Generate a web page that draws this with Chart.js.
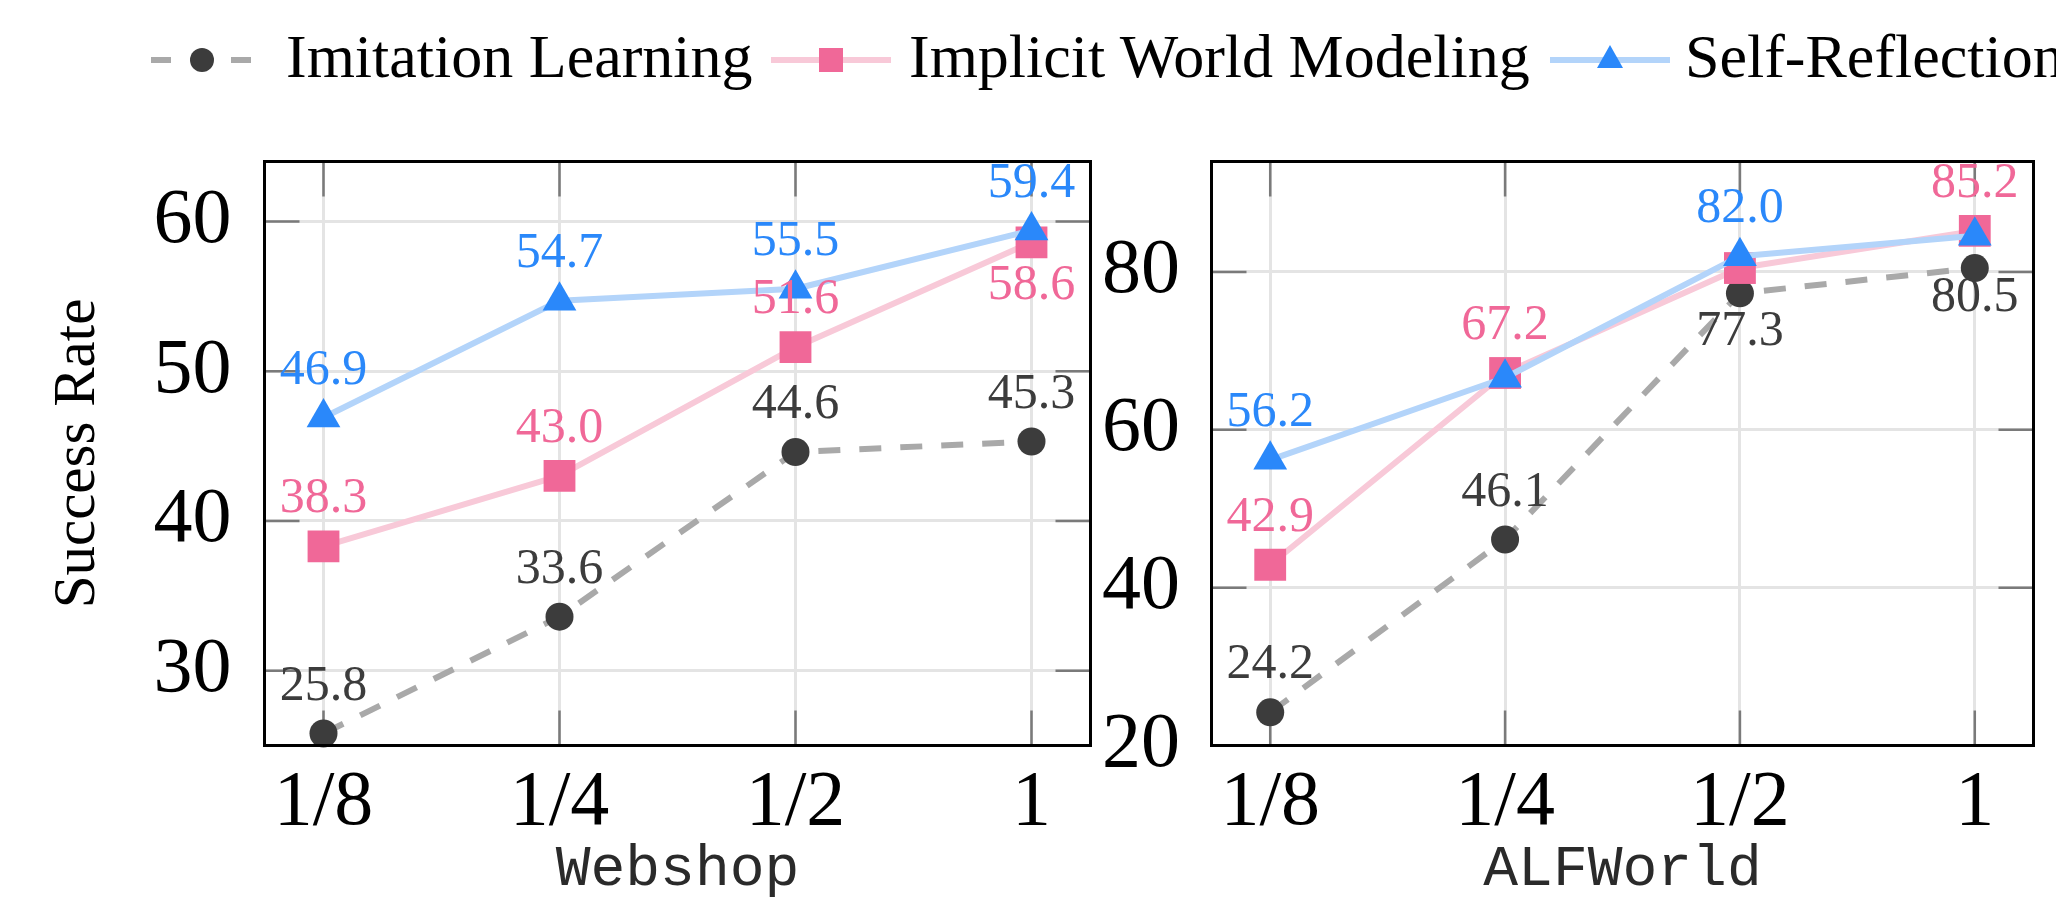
<!DOCTYPE html>
<html>
<head>
<meta charset="utf-8">
<script src="https://cdn.jsdelivr.net/npm/chart.js@4/dist/chart.umd.min.js"></script>
<style>
  html, body { margin:0; padding:0; background:#fff; width:2056px; height:913px; overflow:hidden; position:relative; }
  .cw { position:absolute; top:0; }
  .lg-h { position:absolute; top:40px; }
  .lg-t { position:absolute; top:25px; font-family:"Liberation Serif", serif; font-size:62px; line-height:62px; color:#000; white-space:nowrap; }
</style>
</head>
<body>
<canvas id="c1" class="cw" width="1150" height="913" style="left:0px"></canvas>
<canvas id="c2" class="cw" width="956" height="913" style="left:1100px"></canvas>
<div id="legend"></div>
<script>
// ---------------- data ----------------
const xLabels = ['1/8', '1/4', '1/2', '1'];
const seriesNames = ['Imitation Learning', 'Implicit World Modeling', 'Self-Reflection'];

const webshopImitation = [25.8, 33.6, 44.6, 45.3];
const webshopImplicit  = [38.3, 43.0, 51.6, 58.6];
const webshopSelf      = [46.9, 54.7, 55.5, 59.4];

const alfImitation = [24.2, 46.1, 77.3, 80.5];
const alfImplicit  = [42.9, 67.2, 80.5, 85.2];
const alfSelf      = [56.2, 66.6, 82.0, 84.6];

const webshopYTicks = [30, 40, 50, 60];
const alfYTicks     = [20, 40, 60, 80];

const panelTitles = ['Webshop', 'ALFWorld'];

// value-label placement (px offset from point; null = no label)
const webshopLabelDy = [[-47, -47, -47, -47], [-47, -47, -47, 44], [-47, -47, -47, -47]];
const alfLabelDy     = [[-47, -47, 39, 30], [-47, -47, null, -47], [-47, null, -47, null]];

// ---------------- styles ----------------
const SERIF = '"Liberation Serif", "Times New Roman", serif';
const MONO = '"Liberation Mono", "Courier New", monospace';
const styles = [
  { line: '#a9a9a9', marker: '#3c3c3c', text: '#3c3c3c', pointStyle: 'circle', r: 14, dash: [22, 19], order: 2 },
  { line: '#f8c9d8', marker: '#f06898', text: '#f06898', pointStyle: 'rect', r: 22.5, dash: [], order: 1 },
  { line: '#b3d4fa', marker: '#2a88fa', text: '#2a88fa', pointStyle: 'triangle', r: 19.5, dash: [], order: 0 }
];

const framePlugin = {
  id: 'frame',
  beforeDatasetsDraw(chart) {
    const { ctx, chartArea: a, scales } = chart;
    ctx.save();
    ctx.strokeStyle = '#7a7a7a';
    ctx.lineWidth = 2.5;
    const tl = 35;
    scales.x.ticks.forEach(t => {
      const px = scales.x.getPixelForValue(t.value);
      ctx.beginPath();
      ctx.moveTo(px, a.top); ctx.lineTo(px, a.top + tl);
      ctx.moveTo(px, a.bottom); ctx.lineTo(px, a.bottom - tl);
      ctx.stroke();
    });
    scales.y.ticks.forEach(t => {
      const py = scales.y.getPixelForValue(t.value);
      ctx.beginPath();
      ctx.moveTo(a.left, py); ctx.lineTo(a.left + tl, py);
      ctx.moveTo(a.right, py); ctx.lineTo(a.right - tl, py);
      ctx.stroke();
    });
    ctx.restore();
  },
  afterDatasetsDraw(chart, args, opts) {
    const { ctx, chartArea: a } = chart;
    ctx.save();
    ctx.strokeStyle = '#000';
    ctx.lineWidth = 3;
    ctx.strokeRect(a.left, a.top, a.right - a.left, a.bottom - a.top);
    ctx.font = '50px ' + SERIF;
    ctx.textAlign = 'center';
    ctx.textBaseline = 'middle';
    chart.data.datasets.forEach((ds, i) => {
      const meta = chart.getDatasetMeta(i);
      const dys = opts.labelDy[i];
      meta.data.forEach((el, j) => {
        const dy = dys[j];
        if (dy === null || dy === undefined) return;
        ctx.fillStyle = styles[i].text;
        ctx.fillText(ds.data[j].y.toFixed(1), el.x, el.y + dy);
      });
    });
    ctx.restore();
  }
};

function makeChart(id, seriesVals, labelDy, yMin, yMax, yTicks, title, yAxisWidth, padRight, showYTitle, yPad) {
  const datasets = seriesVals.map((vals, i) => {
    const s = styles[i];
    return {
      label: seriesNames[i],
      data: vals.map((v, k) => ({ x: k, y: v })),
      borderColor: s.line,
      backgroundColor: s.marker,
      borderWidth: 6,
      borderDash: s.dash,
      borderJoinStyle: 'round',
      borderCapStyle: 'butt',
      pointStyle: s.pointStyle,
      pointRadius: s.r,
      pointHoverRadius: s.r,
      pointBackgroundColor: s.marker,
      pointBorderColor: s.marker,
      pointBorderWidth: 0,
      tension: 0,
      order: s.order,
      clip: false
    };
  });
  return new Chart(document.getElementById(id), {
    type: 'line',
    data: { datasets },
    options: {
      responsive: false,
      devicePixelRatio: 1,
      animation: false,
      events: [],
      layout: { padding: { left: 0, top: 161.5, right: padRight, bottom: 0 } },
      plugins: {
        legend: { display: false },
        tooltip: { enabled: false },
        frame: { labelDy }
      },
      scales: {
        x: {
          type: 'linear',
          min: -0.25, max: 3.25,
          afterBuildTicks: s => { s.ticks = xLabels.map((_, k) => ({ value: k })); },
          afterFit: s => { s.height = 167.5; },
          ticks: {
            callback: v => xLabels[v],
            font: { family: SERIF, size: 78, lineHeight: 1 },
            color: '#000',
            padding: 19,
            autoSkip: false,
            maxRotation: 0
          },
          grid: { color: '#e4e4e4', lineWidth: 3, drawTicks: false },
          border: { display: false },
          title: {
            display: true, text: title,
            font: { family: MONO, size: 58, lineHeight: 1 },
            color: '#2a2a2a',
            padding: { top: 0, bottom: 14 }
          }
        },
        y: {
          type: 'linear',
          min: yMin, max: yMax,
          afterBuildTicks: s => { s.ticks = yTicks.map(v => ({ value: v })); },
          afterFit: s => { s.width = yAxisWidth; },
          ticks: {
            font: { family: SERIF, size: 78, lineHeight: 1 },
            color: '#000',
            padding: yPad
          },
          grid: { color: '#e4e4e4', lineWidth: 3, drawTicks: false },
          border: { display: false },
          title: {
            display: showYTitle, text: 'Success Rate',
            font: { family: SERIF, size: 59, lineHeight: 1 },
            color: '#000',
            padding: { top: 48.5, bottom: 0 }
          }
        }
      }
    },
    plugins: [framePlugin]
  });
}

makeChart('c1', [webshopImitation, webshopImplicit, webshopSelf], webshopLabelDy,
  25, 64, webshopYTicks, panelTitles[0], 264.5, 59.5, true, 33);
makeChart('c2', [alfImitation, alfImplicit, alfSelf], alfLabelDy,
  20, 94, alfYTicks, panelTitles[1], 111.5, 19.5, false, 31.5);

// ---------------- legend (HTML) ----------------
const legendHandleX = [142, 771, 1550];
const legendTextX = [286, 909, 1685];
const legend = document.getElementById('legend');
seriesNames.forEach((name, i) => {
  const s = styles[i];
  const svgNS = 'http://www.w3.org/2000/svg';
  const svg = document.createElementNS(svgNS, 'svg');
  svg.setAttribute('width', '120'); svg.setAttribute('height', '40');
  svg.setAttribute('class', 'lg-h');
  svg.style.left = legendHandleX[i] + 'px';
  const ln = document.createElementNS(svgNS, 'line');
  ln.setAttribute('x1', '0'); ln.setAttribute('x2', '120');
  ln.setAttribute('y1', '20'); ln.setAttribute('y2', '20');
  ln.setAttribute('stroke', s.line); ln.setAttribute('stroke-width', '6');
  if (s.dash.length) { ln.setAttribute('stroke-dasharray', '20 20'); ln.setAttribute('stroke-dashoffset', '-9'); }
  svg.appendChild(ln);
  let m;
  if (s.pointStyle === 'circle') {
    m = document.createElementNS(svgNS, 'circle');
    m.setAttribute('cx', '60'); m.setAttribute('cy', '20'); m.setAttribute('r', '12');
  } else if (s.pointStyle === 'rect') {
    m = document.createElementNS(svgNS, 'rect');
    m.setAttribute('x', '48'); m.setAttribute('y', '8'); m.setAttribute('width', '24'); m.setAttribute('height', '24');
  } else {
    m = document.createElementNS(svgNS, 'polygon');
    m.setAttribute('points', '60,5 73,28 47,28');
  }
  m.setAttribute('fill', s.marker);
  svg.appendChild(m);
  legend.appendChild(svg);
  const t = document.createElement('div');
  t.className = 'lg-t';
  t.style.left = legendTextX[i] + 'px';
  t.textContent = name;
  legend.appendChild(t);
});
</script>
</body>
</html>
